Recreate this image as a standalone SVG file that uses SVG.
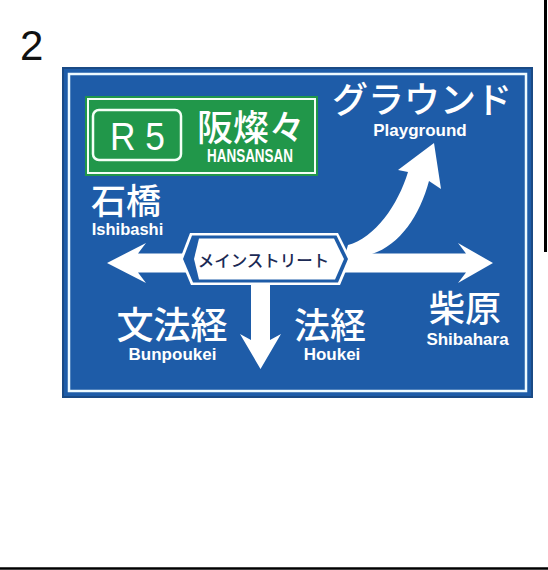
<svg xmlns="http://www.w3.org/2000/svg" width="548" height="570" viewBox="0 0 548 570">
<style>
.jp{font-family:"Noto Sans CJK JP","Noto Sans CJK SC",sans-serif;font-weight:500;fill:#ffffff;text-anchor:middle}
.en{font-family:"Liberation Sans",Arial,sans-serif;font-weight:bold;fill:#ffffff;text-anchor:middle}
.arrow{fill:#ffffff}
</style>
<rect x="0" y="0" width="548" height="570" fill="#ffffff"/>
<line x1="545.5" y1="0" x2="545.5" y2="252" stroke="#000" stroke-width="3"/>
<line x1="0" y1="568.5" x2="548" y2="568.5" stroke="#000" stroke-width="2.5"/>
<text x="20" y="60" font-family="Liberation Sans, sans-serif" font-size="42" fill="#111">2</text>

<g id="sign">
<rect x="63" y="68" width="469" height="329" fill="#1e5ca8" stroke="#1a4a85" stroke-width="2"/>
<rect x="69" y="74" width="457" height="317" fill="none" stroke="#eefaff" stroke-width="2.5"/>
</g>

<g id="route">
<rect x="85" y="96" width="233" height="80" fill="#21974a"/>
<rect x="88" y="99" width="227" height="74" fill="none" stroke="#f4fff6" stroke-width="2"/>
<rect x="93" y="110" width="88" height="50" rx="6" fill="none" stroke="#f4fff6" stroke-width="2.5"/>
<text x="137.5" y="150" font-family="Liberation Sans, Arial, sans-serif" font-size="38" fill="#fff" text-anchor="middle" textLength="55" lengthAdjust="spacingAndGlyphs">R 5</text>
<text class="jp" x="251" y="141" font-size="36">阪燦々</text>
<text class="en" x="250" y="162" font-size="19" textLength="86" lengthAdjust="spacingAndGlyphs">HANSANSAN</text>
</g>

<g id="connectors">
<polygon class="arrow" points="107,263 146,243 138,253.5 190,253.5 190,272.5 138,272.5 146,283"/>
<polygon class="arrow" points="340,253.5 466,253.5 458,243 493,263 458,283 466,272.5 340,272.5"/>
<polygon class="arrow" points="251,280 270,280 270,340 281,334 260.5,369 240,334 251,340"/>
<path class="arrow" d="M345,255 L348,245 C375,238 398,205 408,172 L398,170 L434,143 L441,189 L429,181 C420,215 400,245 372,254 Z"/>
</g>

<g id="main-street">
<polygon fill="#ffffff" points="190,233 338,233 351,259 340,285 191,285 180,259"/>
<polygon fill="#1e5ca8" points="192,235.5 336.5,235.5 348,259 338,282.5 193,282.5 183,259"/>
<polygon fill="#ffffff" points="199,238.5 334,238.5 344,259 335,279.5 199,279.5 194,259"/>
<text x="263.5" y="267" font-family="Noto Sans CJK JP, sans-serif" font-weight="500" font-size="16.5" fill="#1b2a55" text-anchor="middle">メインストリート</text>
</g>

<g id="playground">
<text class="jp" x="422" y="113" font-size="36">グラウンド</text>
<text class="en" x="420" y="136" font-size="17">Playground</text>
</g>
<g id="ishibashi">
<text class="jp" x="126" y="214" font-size="35">石橋</text>
<text class="en" x="127.5" y="235" font-size="16.5">Ishibashi</text>
</g>
<g id="bunpoukei">
<text class="jp" x="172" y="339" font-size="37">文法経</text>
<text class="en" x="172.5" y="360" font-size="17">Bunpoukei</text>
</g>
<g id="houkei">
<text class="jp" x="330" y="339" font-size="36">法経</text>
<text class="en" x="332" y="360" font-size="17">Houkei</text>
</g>
<g id="shibahara">
<text class="jp" x="465" y="322" font-size="36">柴原</text>
<text class="en" x="467.5" y="345" font-size="17">Shibahara</text>
</g>
</svg>
